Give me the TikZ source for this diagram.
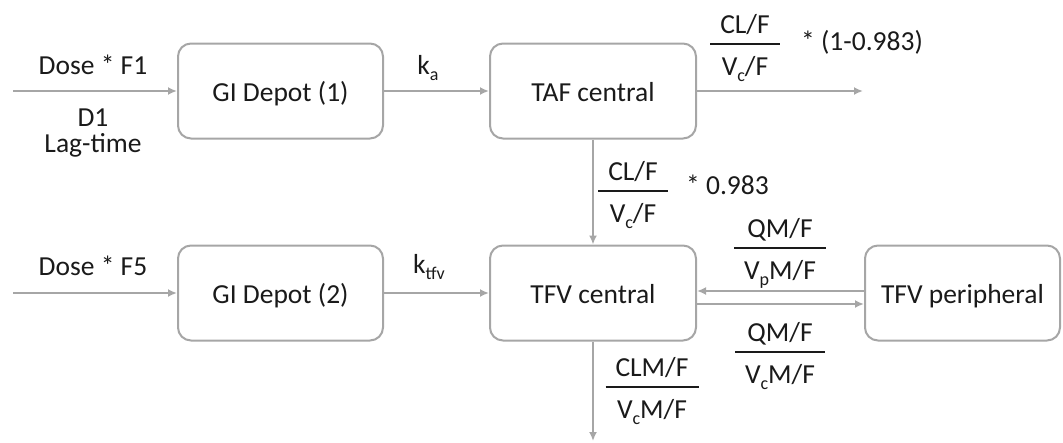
\documentclass[tikz,border=0pt]{standalone}
\usepackage{fontspec}
\setmainfont{Carlito}
\usetikzlibrary{arrows.meta}
\definecolor{linegray}{RGB}{166,166,166}
\definecolor{txt}{RGB}{26,26,26}
\newcommand\mysub[1]{\raisebox{-6pt}{\fontsize{18}{20}\selectfont #1}}
\newcommand\myfr[2]{{\setlength\arrayrulewidth{2pt}\begin{tabular}{@{\hspace{10pt}}c@{\hspace{10pt}}}#1\\\hline\rule{0pt}{30pt}#2\end{tabular}}}
\begin{document}
\begin{tikzpicture}[x=1pt,y=-1pt,
  every node/.style={font=\fontsize{27.5}{33}\selectfont, text=txt, inner sep=0pt},
  box/.style={draw=linegray, line width=2pt, rounded corners=13pt, minimum height=95pt, text height=20pt, text depth=0pt},
  arr/.style={draw=linegray, line width=2pt, -{Latex[length=9pt,width=8pt]}},
]
\useasboundingbox (0,0) rectangle (1063,442);
% boxes
\node[box, minimum width=205pt] (gi1) at (280.5,91) {GI Depot (1)};
\node[box, minimum width=206pt] (taf) at (593,91) {TAF central};
\node[box, minimum width=205pt] (gi2) at (280.5,293) {GI Depot (2)};
\node[box, minimum width=206pt] (tfv) at (593,293) {TFV central};
\node[box, minimum width=195pt] (per) at (962.5,293) {TFV peripheral};
% free ends
\coordinate (in1) at (13,91);
\coordinate (in2) at (13,293);
\coordinate (out1) at (863,91);
\coordinate (out2) at (593,441);
% connectors
\draw[arr] (in1) -- (gi1.west);
\draw[arr] (gi1.east) -- (taf.west);
\draw[arr] (taf.east) -- (out1);
\draw[arr] (taf.south) -- (tfv.north);
\draw[arr] (in2) -- (gi2.west);
\draw[arr] (gi2.east) -- (tfv.west);
\draw[arr] ([yshift=2pt]per.west) -- ([yshift=2pt]tfv.east);
\draw[arr] ([yshift=-11pt]tfv.east) -- ([yshift=-11pt]per.west);
\draw[arr] (tfv.south) -- (out2);
% labels
\node (dose1) at (93,65) {Dose * F1};
\node[align=center] (lag) at (93,133) {D1\\[-7pt]Lag-time};
\node (ka) at (428,68.5) {k\mysub{a}};
\node (dose2) at (93,266) {Dose * F5};
\node (ktfv) at (429,267.5) {k\mysub{tfv}};
\node (f1) at (745,47.5) {\myfr{CL/F}{V\mysub{c}/F}};
\node[anchor=base west] (m1) at (801,50) {* (1-0.983)};
\node (f2) at (633,194.5) {\myfr{CL/F}{V\mysub{c}/F}};
\node[anchor=base west] (m2) at (686,194) {* 0.983};
\node (f3) at (780,251.5) {\myfr{QM/F}{V\mysub{p}M/F}};
\node (f4) at (780,355.5) {\myfr{QM/F}{V\mysub{c}M/F}};
\node (f5) at (652,390.5) {\myfr{CLM/F}{V\mysub{c}M/F}};
\end{tikzpicture}
\end{document}
